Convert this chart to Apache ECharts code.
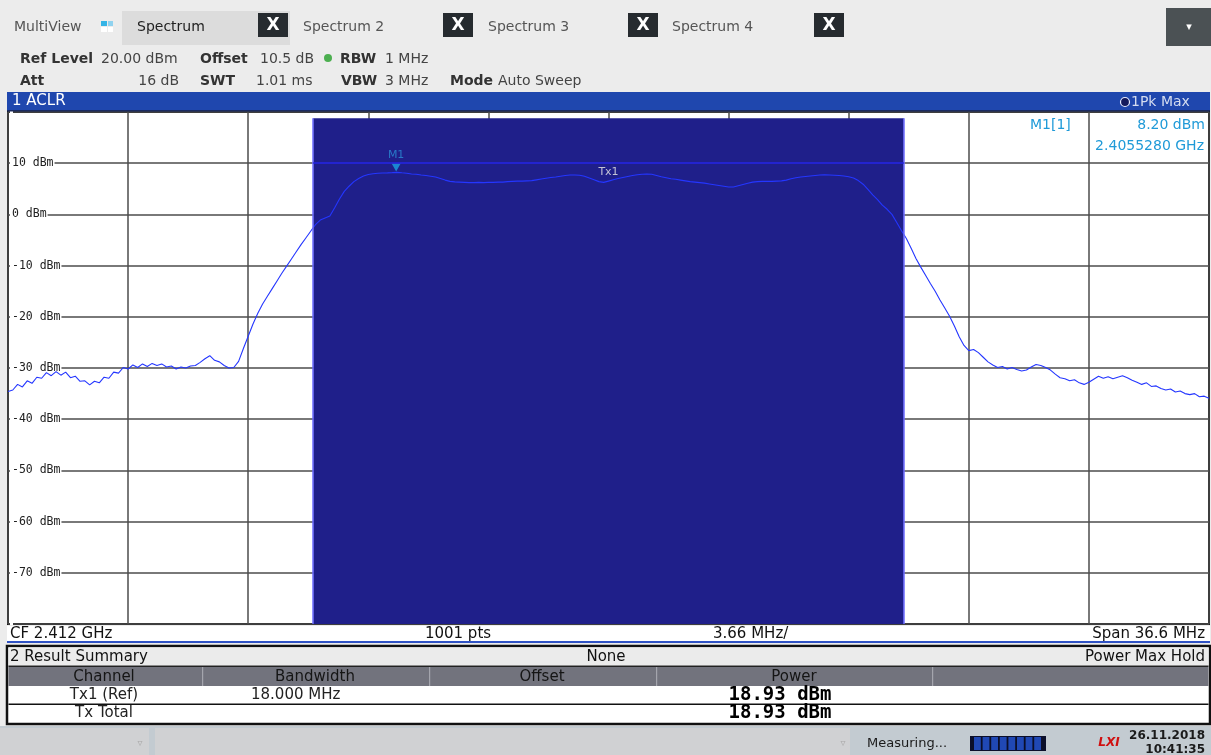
<!DOCTYPE html>
<html>
<head>
<meta charset="utf-8">
<script src="https://cdn.jsdelivr.net/npm/echarts@6/dist/echarts.min.js"></script>
<style>
  html, body { margin: 0; padding: 0; background: #ececec; }
  #chart { width: 1211px; height: 755px; }
</style>
</head>
<body>
<div id="chart"></div>
<script>
// ---- Sweep settings ----
const centerFreqGHz = 2.412;
const spanMHz = 36.6;
const sweepPoints = 1001;
const refLevelDbm = 20;
const bottomLevelDbm = -80;
const levelDivDb = 10;
const traceStepMHz = 0.1464; // every 4th sweep point

// Trace 1 (Pk Max), level in dBm from the left edge of the span to the right edge
const traceLevelDbm = [
  -34.6, -34.3, -33.2, -33.7, -32.5, -33.0, -31.8, -32.0, -30.9, -31.5,
  -30.7, -31.4, -30.8, -31.9, -31.6, -32.6, -32.5, -33.3, -32.6, -32.9,
  -31.8, -32.0, -30.8, -31.0, -29.9, -30.2, -29.4, -29.9, -29.2, -29.7,
  -29.1, -29.5, -29.2, -29.8, -29.6, -30.2, -29.8, -30.0, -29.6, -29.5,
  -28.9, -28.2, -27.6, -28.5, -28.8, -29.5, -30.0, -29.9, -28.7, -26.2,
  -23.8, -21.4, -19.3, -17.5, -16.0, -14.5, -13.0, -11.5, -10.1, -8.7,
  -7.3, -5.9, -4.6, -3.3,
  -2.0, -1.1, -0.7, -0.3, 1.3, 3.0, 4.5, 5.5, 6.4, 7.0,
  7.5, 7.8, 7.95, 8.05, 8.1, 8.12, 8.15, 8.2, 8.12, 8.05,
  7.9, 7.85, 7.7, 7.6, 7.45, 7.3, 7.0, 6.7, 6.45, 6.35,
  6.3, 6.25, 6.2, 6.2, 6.25, 6.2, 6.25, 6.25, 6.3, 6.3,
  6.4, 6.45, 6.5, 6.5, 6.55, 6.6, 6.75, 6.9, 7.05, 7.2,
  7.3, 7.45, 7.6, 7.7, 7.7, 7.65, 7.45, 7.1, 6.75, 6.4,
  6.25, 6.5, 6.75, 7.0, 7.2, 7.4, 7.6, 7.75, 7.85, 7.9,
  7.85, 7.6, 7.35, 7.15, 6.95, 6.85, 6.7, 6.55, 6.4, 6.3,
  6.2, 6.1, 5.95, 5.8, 5.65, 5.5, 5.35, 5.35, 5.6, 5.85,
  6.1, 6.3, 6.4, 6.45, 6.45, 6.45, 6.5, 6.55, 6.7, 6.95,
  7.15, 7.3, 7.4, 7.5, 7.6, 7.7, 7.75, 7.7, 7.65, 7.6,
  7.5, 7.35, 7.1, 6.6, 5.9, 4.9, 3.8, 2.9, 1.8, 1.0,
  0.0, -1.6, -3.2,
  -4.7, -6.6, -8.6, -10.3, -11.9, -13.5, -15.0, -16.7, -18.3, -19.9,
  -21.8, -23.9, -25.6, -26.6, -26.4, -27.0, -27.9, -28.8, -29.4, -29.9,
  -29.7, -30.2, -29.9, -30.3, -30.6, -30.4, -29.8, -29.3, -29.5, -29.9,
  -30.4, -31.2, -31.9, -32.1, -32.5, -32.3, -32.9, -33.2, -32.8, -32.2,
  -31.6, -32.0, -31.7, -32.1, -31.8, -31.5, -31.9, -32.4, -32.8, -33.2,
  -32.9, -33.6, -33.5, -34.0, -34.3, -34.1, -34.7, -34.5, -35.0, -35.2,
  -35.0, -35.6, -35.5, -35.9
];

// ACLR channel
const channelName = 'Tx1';
const channelBandwidthMHz = 18;
const channelLineDbm = 10;

// Marker 1
const markerName = 'M1';
const markerFreqGHz = 2.405528;
const markerLevelDbm = 8.20;

// Result summary table
const tableColumns = ['Channel', 'Bandwidth', 'Offset', 'Power'];
const resultChannels = ['Tx1 (Ref)', 'Tx Total'];
const resultBandwidths = ['18.000 MHz', ''];
const resultPowerDbm = [18.93, 18.93];

// Tabs
const tabNames = ['Spectrum', 'Spectrum 2', 'Spectrum 3', 'Spectrum 4'];

// ---- Build ----
const halfSpan = spanMHz / 2;
const traceData = traceLevelDbm.map((v, i) => [-halfSpan + i * traceStepMHz, v]);
const markerOffsetMHz = (markerFreqGHz - centerFreqGHz) * 1000;
const chHalf = channelBandwidthMHz / 2;

const SANS = '"DejaVu Sans", Verdana, sans-serif';
const MONO = '"DejaVu Sans Mono", monospace';

function txt(x, y, s, o) {
  o = o || {};
  return {
    type: 'text', x: x, y: y, z: o.z || 100,
    style: {
      text: s,
      fill: o.color || '#333',
      fontSize: o.size || 14,
      fontFamily: o.family || SANS,
      fontWeight: o.weight || 'normal',
      fontStyle: o.italic ? 'italic' : 'normal',
      align: o.align || 'left',
      verticalAlign: 'middle',
      backgroundColor: o.bg,
      padding: o.bg ? [1, 2] : 0
    }
  };
}
function box(x, y, w, h, fill, o) {
  o = o || {};
  return {
    type: 'rect', z: o.z || 90,
    shape: { x: x, y: y, width: w, height: h },
    style: { fill: fill, stroke: o.stroke || null, lineWidth: o.lw || 0 }
  };
}

const g = [];
// tab row
g.push(txt(14, 27, 'MultiView', { color: '#555', size: 14 }));
g.push(box(101, 21, 6, 5, '#35b4e6'), box(108, 21, 5, 5, '#8fd2ef'),
       box(101, 27, 6, 5, '#ffffff'), box(108, 27, 5, 5, '#ffffff'));
g.push(box(122, 11, 168, 34, '#dcdcdc'));
const tabTextX = [137, 303, 488, 672];
const tabCloseX = [258, 443, 628, 814];
tabNames.forEach((n, i) => {
  g.push(txt(tabTextX[i], 27, n, { color: i === 0 ? '#222' : '#555', size: 14 }));
  g.push(box(tabCloseX[i], 13, 30, 24, '#262b2f'));
  g.push(txt(tabCloseX[i] + 15, 25.5, 'X', { color: '#fff', size: 17, weight: 'bold', align: 'center', z: 101 }));
});
g.push(box(1166, 8, 45, 38, '#4b5154'));
g.push(txt(1189, 27, '▾', { color: '#fff', size: 11, align: 'center', z: 101 }));

// setting rows
g.push(txt(20, 59, 'Ref Level', { weight: 'bold', color: '#333' }));
g.push(txt(101, 59, refLevelDbm.toFixed(2) + ' dBm', { color: '#444' }));
g.push(txt(200, 59, 'Offset', { weight: 'bold', color: '#333' }));
g.push(txt(260, 59, '10.5 dB', { color: '#444' }));
g.push({ type: 'circle', z: 100, shape: { cx: 328, cy: 58, r: 4 }, style: { fill: '#4caf50' } });
g.push(txt(340, 59, 'RBW', { weight: 'bold', color: '#333' }));
g.push(txt(385, 59, '1 MHz', { color: '#444' }));
g.push(txt(20, 81, 'Att', { weight: 'bold', color: '#333' }));
g.push(txt(179, 81, '16 dB', { color: '#444', align: 'right' }));
g.push(txt(200, 81, 'SWT', { weight: 'bold', color: '#333' }));
g.push(txt(256, 81, '1.01 ms', { color: '#444' }));
g.push(txt(341, 81, 'VBW', { weight: 'bold', color: '#333' }));
g.push(txt(385, 81, '3 MHz', { color: '#444' }));
g.push(txt(450, 81, 'Mode', { weight: 'bold', color: '#333' }));
g.push(txt(498, 81, 'Auto Sweep', { color: '#444' }));

// window title bar
g.push(box(7, 92, 1203, 19, '#1f47ae'));
g.push(box(7, 110, 1203, 1.5, '#1a2a60'));
g.push(txt(12, 101, '1 ACLR', { color: '#fff', size: 15 }));
g.push({ type: 'circle', z: 100, shape: { cx: 1125, cy: 102, r: 4.5 }, style: { fill: '#141a5c', stroke: '#e8ecff', lineWidth: 1.2 } });
g.push(txt(1131, 102, '1Pk Max', { color: '#d4dcf0', size: 14 }));

// marker readout
g.push(txt(1030, 125, markerName + '[1]', { color: '#1f9ad8', size: 14 }));
g.push(txt(1205, 125, markerLevelDbm.toFixed(2) + ' dBm', { color: '#1f9ad8', size: 14, align: 'right' }));
g.push(txt(1206, 146, markerFreqGHz.toFixed(7) + ' GHz', { color: '#1f9ad8', size: 14, align: 'right', bg: '#ffffff' }));

// footer of the diagram
g.push(box(7, 626, 1203, 16, '#ffffff'));
g.push(box(7, 641, 1203, 2, '#2f52c4'));
g.push(txt(10, 634, 'CF ' + centerFreqGHz.toFixed(3) + ' GHz', { color: '#111', size: 15 }));
g.push(txt(458, 634, sweepPoints + ' pts', { color: '#111', size: 15, align: 'center' }));
g.push(txt(713, 634, (spanMHz / 10).toFixed(2) + ' MHz/', { color: '#111', size: 15 }));
g.push(txt(1205, 634, 'Span ' + spanMHz + ' MHz', { color: '#111', size: 15, align: 'right' }));

// result summary
g.push(box(7, 646, 1203, 78, '#ffffff', { stroke: '#111', lw: 2.5 }));
g.push(box(8.5, 647.5, 1200, 18, '#ebebeb', { z: 91 }));
g.push(txt(10, 657, '2 Result Summary', { color: '#111', size: 15 }));
g.push(txt(606, 657, 'None', { color: '#111', size: 15, align: 'center' }));
g.push(txt(1205, 657, 'Power Max Hold', { color: '#111', size: 15, align: 'right' }));
g.push(box(8.5, 665.5, 1200, 1.5, '#222', { z: 91 }));
g.push(box(8.5, 667, 1200, 19, '#72737d', { z: 91 }));
const colSep = [202, 429, 656, 932];
colSep.forEach(x => g.push(box(x, 667, 1.2, 19, '#a4a5ad', { z: 92 })));
const colCenter = [104, 315, 542, 794];
tableColumns.forEach((c, i) => g.push(txt(colCenter[i], 677, c, { color: '#151515', size: 15, align: 'center' })));
const rowY = [695, 713];
resultChannels.forEach((c, i) => {
  g.push(txt(104, rowY[i], c, { color: '#222', size: 15, align: 'center' }));
  if (resultBandwidths[i]) g.push(txt(251, rowY[i], resultBandwidths[i], { color: '#222', size: 15 }));
  g.push(txt(780, rowY[i], resultPowerDbm[i].toFixed(2) + ' dBm', { color: '#000', size: 19, family: MONO, weight: 'bold', align: 'center' }));
});
g.push(box(8.5, 703.5, 1200, 1.5, '#111', { z: 92 }));

// status bar
g.push(box(0, 726, 1211, 29, '#c3cbd1'));
g.push(box(0, 728, 149, 27, '#d0d1d3', { z: 91 }));
g.push(box(155, 728, 695, 27, '#d0d1d3', { z: 91 }));
g.push(txt(140, 743, '▿', { color: '#aaa', size: 10, align: 'center' }));
g.push(txt(843, 743, '▿', { color: '#aaa', size: 10, align: 'center' }));
g.push(txt(867, 744, 'Measuring...', { color: '#1a1a1a', size: 13 }));
g.push(box(970, 736, 76, 15, '#0b0f2a', { z: 91 }));
for (let k = 0; k < 8; k++) g.push(box(974 + k * 8.6, 737, 6.8, 13, '#2048b4', { z: 92 }));
g.push(txt(1109, 743, 'LXI', { color: '#d01010', size: 12, weight: 'bold', italic: true, align: 'center' }));
g.push(txt(1205, 736, '26.11.2018', { color: '#1a1a1a', size: 12, weight: 'bold', align: 'right' }));
g.push(txt(1205, 750, '10:41:35', { color: '#1a1a1a', size: 12, weight: 'bold', align: 'right' }));

const chart = echarts.init(document.getElementById('chart'), null, { renderer: 'canvas' });
chart.setOption({
  animation: false,
  backgroundColor: '#ececec',
  grid: {
    left: 8, top: 112, right: 2, bottom: 131,
    show: true, backgroundColor: '#ffffff', borderColor: '#161616', borderWidth: 2
  },
  xAxis: {
    type: 'value', min: -halfSpan, max: halfSpan, interval: spanMHz / 10,
    axisLine: { show: false }, axisTick: { show: false }, axisLabel: { show: false },
    splitLine: { show: true, lineStyle: { color: '#4d4d4d', width: 1.5 } }
  },
  yAxis: {
    type: 'value', min: bottomLevelDbm, max: refLevelDbm, interval: levelDivDb,
    axisLine: { show: false }, axisTick: { show: false },
    splitLine: { show: true, lineStyle: { color: '#4d4d4d', width: 1.5 } },
    axisLabel: {
      inside: true, margin: 2,
      fontFamily: MONO, fontSize: 11.5, color: '#222',
      backgroundColor: '#ffffff', padding: [1, 1, 1, 2],
      formatter: v => (v >= refLevelDbm || v <= bottomLevelDbm) ? '' : v + ' dBm'
    }
  },
  series: [
    {
      // channel bar
      type: 'line', data: [], silent: true, z: 1,
      markArea: {
        silent: true,
        itemStyle: { color: '#1f1f8a' },
        data: [[{ xAxis: -chHalf, yAxis: bottomLevelDbm }, { xAxis: chHalf, yAxis: 18.8 }]]
      },
      markLine: {
        silent: true, symbol: 'none',
        data: [
          [{ coord: [-chHalf, bottomLevelDbm], lineStyle: { color: '#6b6bff', width: 1.5, type: 'solid' }, label: { show: false } },
           { coord: [-chHalf, 18.8] }],
          [{ coord: [chHalf, bottomLevelDbm], lineStyle: { color: '#6b6bff', width: 1.5, type: 'solid' }, label: { show: false } },
           { coord: [chHalf, 18.8] }],
          [{ coord: [-chHalf, channelLineDbm], lineStyle: { color: '#2626e6', width: 1.5, type: 'solid' },
             label: { show: true, formatter: channelName, position: 'insideMiddleBottom', color: '#c2c2d6', fontSize: 11, fontFamily: SANS, distance: 3 } },
           { coord: [chHalf, channelLineDbm] }]
        ]
      }
    },
    {
      type: 'line', name: 'Trace 1', data: traceData, z: 3,
      showSymbol: false, symbol: 'none', smooth: false,
      lineStyle: { color: '#2436ff', width: 1.1 }
    },
    {
      type: 'scatter', name: markerName, z: 4,
      data: [[markerOffsetMHz, markerLevelDbm]],
      symbol: 'triangle', symbolRotate: 180, symbolSize: [9, 8], symbolOffset: [0, -5],
      itemStyle: { color: '#1aa0e2' },
      label: { show: true, formatter: markerName, position: 'top', distance: 3, color: '#2a8fd6', fontSize: 11, fontFamily: SANS }
    }
  ],
  graphic: g
});
</script>
</body>
</html>
